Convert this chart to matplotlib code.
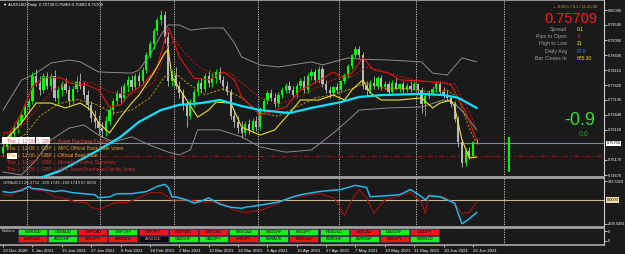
import matplotlib.pyplot as plt
from matplotlib.patches import Rectangle

plt.rcParams['font.family'] = ['Liberation Sans', 'DejaVu Sans']

# AUDUSD daily bars, 22 Dec 2020 .. 23 Jun 2021
opens = [0.7540, 0.7560, 0.7580, 0.7600, 0.7620, 0.7640, 0.7665, 0.7690, 0.7710, 0.7790,
         0.7770, 0.7745, 0.7790, 0.7760, 0.7790, 0.7720, 0.7745, 0.7765, 0.7745, 0.7710,
         0.7750, 0.7775, 0.7760, 0.7730, 0.7695, 0.7655, 0.7640, 0.7620, 0.7610, 0.7645,
         0.7680, 0.7710, 0.7735, 0.7720, 0.7760, 0.7780, 0.7755, 0.7790, 0.7775, 0.7810,
         0.7860, 0.7895, 0.7940, 0.7975, 0.7990, 0.7920, 0.7775, 0.7795, 0.7760, 0.7735,
         0.7695, 0.7660, 0.7705, 0.7740, 0.7770, 0.7750, 0.7790, 0.7770, 0.7785, 0.7805,
         0.7780, 0.7760, 0.7740, 0.7660, 0.7640, 0.7620, 0.7605, 0.7635, 0.7615, 0.7645,
         0.7625, 0.7685, 0.7710, 0.7735, 0.7720, 0.7700, 0.7730, 0.7745, 0.7760, 0.7745,
         0.7730, 0.7760, 0.7775, 0.7745, 0.7790, 0.7805, 0.7780, 0.7815, 0.7765, 0.7745,
         0.7735, 0.7755, 0.7745, 0.7775, 0.7795, 0.7825, 0.7860, 0.7880, 0.7860, 0.7760,
         0.7745, 0.7770, 0.7760, 0.7785, 0.7755, 0.7765, 0.7740, 0.7770, 0.7750, 0.7765,
         0.7745, 0.7760, 0.7750, 0.7765, 0.7745, 0.7700, 0.7725, 0.7735, 0.7750, 0.7765,
         0.7740, 0.7730, 0.7720, 0.7700, 0.7650, 0.7575, 0.7505, 0.7545, 0.7528, 0.75736]
highs = [0.7585, 0.7595, 0.7610, 0.7630, 0.7650, 0.7675, 0.7700, 0.7720, 0.7805, 0.7815,
         0.7790, 0.7800, 0.7805, 0.7800, 0.7810, 0.7760, 0.7775, 0.7785, 0.7760, 0.7760,
         0.7790, 0.7800, 0.7775, 0.7745, 0.7710, 0.7680, 0.7665, 0.7640, 0.7660, 0.7690,
         0.7720, 0.7745, 0.7760, 0.7770, 0.7790, 0.7795, 0.7800, 0.7805, 0.7820, 0.7870,
         0.7905, 0.7950, 0.7985, 0.8008, 0.8005, 0.7935, 0.7810, 0.7820, 0.7775, 0.7750,
         0.7710, 0.7715, 0.7750, 0.7780, 0.7785, 0.7800, 0.7810, 0.7800, 0.7815, 0.7820,
         0.7790, 0.7775, 0.7750, 0.7680, 0.7660, 0.7645, 0.7645, 0.7650, 0.7655, 0.7660,
         0.7690, 0.7720, 0.7745, 0.7750, 0.7735, 0.7740, 0.7755, 0.7770, 0.7775, 0.7760,
         0.7770, 0.7785, 0.7790, 0.7800, 0.7815, 0.7815, 0.7825, 0.7825, 0.7780, 0.7760,
         0.7760, 0.7770, 0.7780, 0.7800, 0.7830, 0.7865, 0.7891, 0.7890, 0.7870, 0.7775,
         0.7780, 0.7790, 0.7790, 0.7795, 0.7775, 0.7775, 0.7780, 0.7785, 0.7770, 0.7775,
         0.7770, 0.7775, 0.7775, 0.7770, 0.7755, 0.7735, 0.7745, 0.7760, 0.7775, 0.7775,
         0.7755, 0.7745, 0.7730, 0.7710, 0.7660, 0.7585, 0.7555, 0.7560, 0.7580, 0.75863]
lows = [0.7530, 0.7550, 0.7565, 0.7590, 0.7605, 0.7630, 0.7650, 0.7670, 0.7700, 0.7760,
        0.7730, 0.7735, 0.7750, 0.7745, 0.7710, 0.7700, 0.7725, 0.7735, 0.7695, 0.7700,
        0.7740, 0.7750, 0.7715, 0.7680, 0.7640, 0.7620, 0.7600, 0.7592, 0.7595, 0.7630,
        0.7665, 0.7695, 0.7700, 0.7710, 0.7740, 0.7745, 0.7745, 0.7760, 0.7765, 0.7800,
        0.7850, 0.7880, 0.7925, 0.7960, 0.7900, 0.7760, 0.7760, 0.7750, 0.7720, 0.7680,
        0.7625, 0.7650, 0.7690, 0.7725, 0.7735, 0.7740, 0.7755, 0.7755, 0.7770, 0.7770,
        0.7745, 0.7730, 0.7650, 0.7625, 0.7605, 0.7590, 0.7595, 0.7600, 0.7605, 0.7610,
        0.7615, 0.7675, 0.7700, 0.7710, 0.7690, 0.7690, 0.7720, 0.7735, 0.7735, 0.7720,
        0.7720, 0.7750, 0.7735, 0.7735, 0.7780, 0.7770, 0.7770, 0.7755, 0.7735, 0.7720,
        0.7725, 0.7735, 0.7740, 0.7765, 0.7785, 0.7815, 0.7850, 0.7850, 0.7750, 0.7730,
        0.7735, 0.7750, 0.7750, 0.7745, 0.7745, 0.7730, 0.7735, 0.7745, 0.7740, 0.7735,
        0.7740, 0.7740, 0.7745, 0.7735, 0.7670, 0.7660, 0.7715, 0.7725, 0.7740, 0.7730,
        0.7720, 0.7710, 0.7690, 0.7640, 0.7560, 0.7493, 0.7498, 0.7520, 0.7522, 0.75683]
closes = [0.7560, 0.7580, 0.7600, 0.7620, 0.7640, 0.7665, 0.7690, 0.7710, 0.7790, 0.7770,
          0.7745, 0.7790, 0.7760, 0.7790, 0.7720, 0.7745, 0.7765, 0.7745, 0.7710, 0.7750,
          0.7775, 0.7760, 0.7730, 0.7695, 0.7655, 0.7640, 0.7620, 0.7610, 0.7645, 0.7680,
          0.7710, 0.7735, 0.7720, 0.7760, 0.7780, 0.7755, 0.7790, 0.7775, 0.7810, 0.7860,
          0.7895, 0.7940, 0.7975, 0.7990, 0.7920, 0.7775, 0.7795, 0.7760, 0.7735, 0.7695,
          0.7660, 0.7705, 0.7740, 0.7770, 0.7750, 0.7790, 0.7770, 0.7785, 0.7805, 0.7780,
          0.7760, 0.7740, 0.7660, 0.7640, 0.7620, 0.7605, 0.7635, 0.7615, 0.7645, 0.7625,
          0.7685, 0.7710, 0.7735, 0.7720, 0.7700, 0.7730, 0.7745, 0.7760, 0.7745, 0.7730,
          0.7760, 0.7775, 0.7745, 0.7790, 0.7805, 0.7780, 0.7815, 0.7765, 0.7745, 0.7735,
          0.7755, 0.7745, 0.7775, 0.7795, 0.7825, 0.7860, 0.7880, 0.7860, 0.7760, 0.7745,
          0.7770, 0.7760, 0.7785, 0.7755, 0.7765, 0.7740, 0.7770, 0.7750, 0.7765, 0.7745,
          0.7760, 0.7750, 0.7765, 0.7745, 0.7700, 0.7725, 0.7735, 0.7750, 0.7765, 0.7740,
          0.7730, 0.7720, 0.7700, 0.7650, 0.7575, 0.7505, 0.7545, 0.7528, 0.7574, 0.75709]

# indicator lines, read at selected bars
bb_up_x = [0, 5, 9, 13, 18, 21, 26, 35, 37, 40, 43, 45, 48, 51, 56, 60, 63, 65, 70, 75,
           84, 87, 90, 94, 97, 105, 114, 117, 121, 125, 129]
bb_up = [0.7680, 0.7778, 0.7801, 0.7834, 0.7844, 0.7838, 0.7805, 0.7801, 0.7811, 0.7861,
         0.7926, 0.7959, 0.7959, 0.7942, 0.7949, 0.7949, 0.7900, 0.7854, 0.7828, 0.7821,
         0.7838, 0.7828, 0.7838, 0.7851, 0.7847, 0.7844, 0.7838, 0.7801, 0.7795, 0.7851,
         0.7838]
bb_lo_x = [0, 5, 9, 13, 18, 22, 26, 30, 35, 40, 45, 48, 51, 53, 59, 65, 70, 77, 84, 90,
           94, 97, 105, 114, 120, 123, 126, 129]
bb_lo = [0.7477, 0.7467, 0.7516, 0.7582, 0.7621, 0.7631, 0.7598, 0.7575, 0.7592, 0.7565,
         0.7542, 0.7533, 0.7549, 0.7615, 0.7615, 0.7592, 0.7559, 0.7542, 0.7549, 0.7605,
         0.7647, 0.7680, 0.7687, 0.7690, 0.7713, 0.7703, 0.7664, 0.7615]
red_x = [0, 2, 5, 8, 11, 16, 18, 23, 26, 29, 32, 35, 38, 42, 44, 45, 46, 48, 52, 56,
         60, 63, 65, 70, 77, 81, 85, 90, 92, 95, 98, 101, 105, 108, 114, 120, 122, 126, 129]
red = [0.7605, 0.7608, 0.7670, 0.7756, 0.7788, 0.7785, 0.7769, 0.7762, 0.7746, 0.7690,
       0.7697, 0.7739, 0.7762, 0.7821, 0.7910, 0.7949, 0.7920, 0.7854, 0.7785, 0.7779,
       0.7805, 0.7779, 0.7723, 0.7664, 0.7690, 0.7746, 0.7769, 0.7805, 0.7788, 0.7801,
       0.7851, 0.7811, 0.7801, 0.7779, 0.7775, 0.7769, 0.7762, 0.7674, 0.7582]
red_slow_x = [0, 5, 9, 13, 18, 24, 29, 34, 38, 41, 43, 45, 47, 50, 54, 58, 62, 66, 70, 75,
              80, 85, 90, 95, 99, 103, 108, 114, 120, 123, 126, 129]
red_slow = [0.7595, 0.7625, 0.7680, 0.7740, 0.7775, 0.7770, 0.7740, 0.7730, 0.7745, 0.7770,
            0.7830, 0.7895, 0.7905, 0.7860, 0.7815, 0.7800, 0.7800, 0.7760, 0.7720, 0.7700,
            0.7720, 0.7750, 0.7780, 0.7790, 0.7820, 0.7810, 0.7790, 0.7775, 0.7770, 0.7765,
            0.7700, 0.7620]
yel_x = [0, 5, 9, 13, 17, 21, 24, 26, 29, 32, 35, 37, 41, 44, 45, 46, 50, 53, 56, 58,
         62, 65, 70, 74, 78, 81, 86, 90, 93, 95, 98, 100, 103, 108, 114, 117, 119, 122, 123,
         125, 127, 129]
yel = [0.7575, 0.7638, 0.7703, 0.7703, 0.7687, 0.7703, 0.7680, 0.7638, 0.7605, 0.7657,
       0.7703, 0.7729, 0.7801, 0.7867, 0.7877, 0.7788, 0.7713, 0.7657, 0.7680, 0.7706,
       0.7703, 0.7624, 0.7598, 0.7615, 0.7670, 0.7713, 0.7713, 0.7729, 0.7713, 0.7746,
       0.7779, 0.7736, 0.7713, 0.7713, 0.7720, 0.7687, 0.7703, 0.7713, 0.7690, 0.7582,
       0.7523, 0.7526]
yel_slow_x = [0, 6, 10, 15, 20, 25, 30, 35, 40, 44, 47, 50, 55, 60, 65, 70, 75, 80, 85, 90,
              95, 99, 104, 110, 116, 121, 124, 127, 129]
yel_slow = [0.7560, 0.7600, 0.7660, 0.7700, 0.7715, 0.7700, 0.7670, 0.7680, 0.7720, 0.7790,
            0.7800, 0.7770, 0.7730, 0.7750, 0.7720, 0.7670, 0.7660, 0.7690, 0.7720, 0.7730,
            0.7750, 0.7770, 0.7750, 0.7750, 0.7740, 0.7745, 0.7720, 0.7620, 0.7570]
ma_x = [5, 10, 16, 21, 26, 32, 37, 43, 48, 54, 59, 65, 70, 78, 84, 92, 97, 103, 114, 120,
        124, 129]
ma = [0.7430, 0.7457, 0.7483, 0.7516, 0.7549, 0.7592, 0.7641, 0.7680, 0.7697, 0.7703,
      0.7713, 0.7693, 0.7680, 0.7670, 0.7687, 0.7706, 0.7723, 0.7729, 0.7733, 0.7729,
      0.7720, 0.7687]

bid = 0.75709
red_level = 0.7528
adr_bar_x = 137.7
adr_bar = (0.7477, 0.7591)
month_starts = [6.5, 26.5, 46.5, 69.5, 91.5, 112.5, 136.5]
price_ticks = [0.80080, 0.79590, 0.79090, 0.78600, 0.78110, 0.77620, 0.77130,
               0.76640, 0.76150, 0.75170, 0.74670]

# CCI subwindow
cci_x = [0, 2, 5, 7, 8, 11, 14, 16, 19, 22, 25, 26, 29, 31, 35, 37, 39, 42, 44, 45,
         46, 47, 50, 52, 54, 56, 59, 62, 65, 66, 70, 75, 79, 81, 86, 92, 96, 99, 100,
         104, 108, 111, 114, 115, 116, 119, 121, 123, 125, 127, 129]
cci = [143, 125, 161, 232, 196, 179, 143, 161, 125, 107, 89, 36, 54, 107, 107, 125, 143,
       232, 268, 214, 54, 54, 0, -54, -18, 36, -71, -125, -143, -125, -89, -36, 54, 89,
       143, 179, 250, 214, 54, 71, 89, 179, 54, 0, 71, 54, 0, -54, -409, -321, -214]
sig_x = [0, 2, 5, 7, 8, 11, 14, 16, 20, 23, 24, 26, 27, 30, 34, 37, 40, 43, 45, 46, 50,
         54, 59, 63, 66, 70, 74, 78, 82, 86, 90, 91, 93, 95, 97, 99, 101, 104, 108, 111,
         114, 115, 116, 120, 123, 125, 127, 129]
sig = [89, 71, 196, 214, 179, 161, 54, 36, -36, -54, -125, -161, -143, -54, -36, 36, 125,
       125, 54, 0, 0, -36, -36, -179, -214, -179, -89, 36, 71, 107, 36, -36, -268, 0, 179,
       36, -232, 0, 71, 125, -36, -232, 89, 54, -54, -232, -214, -36]

date_labels = ['22 Dec 2020', '5 Jan 2021', '15 Jan 2021', '27 Jan 2021', '8 Feb 2021',
               '18 Feb 2021', '2 Mar 2021', '12 Mar 2021', '24 Mar 2021', '5 Apr 2021',
               '15 Apr 2021', '27 Apr 2021', '7 May 2021', '19 May 2021', '31 May 2021',
               '10 Jun 2021', '22 Jun 2021']

row1 = ['EURUSD', 'GBPAUD', 'GBPCAD', 'GBPCHF', 'GBPJPY', 'GBPNZD', 'GBPUSD',
        'NZDCAD', 'NZDCHF', 'NZDJPY', 'NZDUSD', 'USDCAD', 'USDCHF', 'USDJPY']
row1_state = ['g', 'g', 'r', 'g', 'r', 'r', 'r', 'g', 'g', 'g', 'g', 'r', 'g', 'r']
row2 = ['AUDCAD', 'AUDCHF', 'AUDJPY', 'AUDNZD', 'AUDUSD', 'CADCHF', 'CADJPY',
        'CHFJPY', 'EURAUD', 'EURCAD', 'EURCHF', 'EURGBP', 'EURJPY', 'EURNZD']
row2_state = ['r', 'g', 'r', 'r', 'k', 'g', 'g', 'r', 'g', 'r', 'g', 'g', 'r', 'g']

events = ['Thu  |  12:00  |  GBP  |  Asset Purchase Facility',
          'Thu  |  12:00  |  GBP  |  MPC Official Bank Rate Votes',
          'Thu  |  12:00  |  GBP  |  Official Bank Rate',
          'Thu  |  12:00  |  GBP  |  Monetary Policy Summary',
          'Thu  |  12:00  |  GBP  |  MPC Asset Purchase Facility Votes']
event_colors = ['#e04848', '#e0a030', '#e0a030', '#c83030', '#c83030']

# ---------------------------------------------------------------
W, H = 625, 254
BG = '#1a1a1a'
GRID = '#a8a8a8'

fig = plt.figure(figsize=(W / 100, H / 100), dpi=100, facecolor=BG)


def px_axes(x0, y0, x1, y1):
    return fig.add_axes([x0 / W, 1 - y1 / H, (x1 - x0) / W, (y1 - y0) / H])


def ftxt(x, y, s, **kw):
    fig.text(x / W, 1 - y / H, s, va='center', **kw)


def frect(x0, y0, x1, y1, **kw):
    fig.add_artist(Rectangle((x0 / W, 1 - y1 / H), (x1 - x0) / W, (y1 - y0) / H,
                             transform=fig.transFigure, **kw))


ax = px_axes(0, 0, 604, 177)
ax_cci = px_axes(0, 178, 604, 227)
ax_btn = px_axes(0, 228, 604, 245)
ax_cci.sharex(ax)
ax_btn.sharex(ax)

for a in (ax, ax_cci, ax_btn):
    a.set_facecolor(BG)
    a.spines['left'].set_visible(False)
    for s in ('top', 'bottom'):
        a.spines[s].set_color(GRID)
        a.spines[s].set_linewidth(1.2)
    a.spines['right'].set_color('#d0d0d0')
    a.spines['right'].set_linewidth(0.8)
    a.tick_params(axis='y', left=False, labelleft=False, right=True, labelright=True,
                  labelsize=2.8, colors='white', length=2, width=0.5, pad=1)
    a.tick_params(axis='x', bottom=False, labelbottom=False)
    for m in month_starts:
        a.axvline(m, color='#d8d8d8', lw=0.6, ls=(0, (1.5, 1.5)), zorder=1)

ax.set_xlim(-0.85, 163.7)

# ---- main price window ----
ax.set_ylim(0.74605, 0.80408)
idx = list(range(len(closes)))
cols = ['#00ff00' if c >= o else '#b8b8b8' for o, c in zip(opens, closes)]
ax.vlines(idx, lows, highs, colors=cols, lw=0.6, zorder=3)
ax.bar(idx, [max(abs(c - o), 0.00008) for o, c in zip(opens, closes)],
       bottom=[min(o, c) for o, c in zip(opens, closes)], width=0.6, color=cols,
       lw=0, zorder=3)

ax.plot(bb_up_x, bb_up, color='#8c8c8c', lw=0.7, zorder=2)
ax.plot(bb_lo_x, bb_lo, color='#8c8c8c', lw=0.7, zorder=2)
ax.plot(red_slow_x, red_slow, color='#b01818', lw=0.7, ls=(0, (2.5, 1.5)), zorder=4)
ax.plot(yel_slow_x, yel_slow, color='#a89400', lw=0.7, ls=(0, (2.5, 1.5)), zorder=4)
ax.plot(red_x, red, color='#e81010', lw=0.8, zorder=4)
ax.plot(yel_x, yel, color='#f0e020', lw=0.8, zorder=4)
ax.plot(ma_x, ma, color='#10e0ff', lw=1.6, zorder=5)

ax.axhline(bid, color='#7d8a98', lw=0.8, zorder=2)
ax.axhline(red_level, color='#a01010', lw=0.9, ls=(0, (4, 2, 1, 2)), zorder=2)
ax.vlines(adr_bar_x, adr_bar[0], adr_bar[1], color='#00ff00', lw=1.4, zorder=3)

ax.set_yticks(price_ticks)
ax.set_yticklabels([f'{t:.5f}' for t in price_ticks])
ax.text(1.004, bid, f'{bid:.5f}', transform=ax.get_yaxis_transform(), fontsize=2.8,
        color='black', va='center', ha='left', clip_on=False,
        bbox=dict(facecolor='white', edgecolor='none', pad=0.6))

# ---- CCI window ----
ax_cci.set_ylim(-463, 376)
ax_cci.axhline(0, color='#c8b48c', lw=0.8, zorder=2)
ax_cci.plot(sig_x, sig, color='#a81010', lw=0.8, zorder=3)
ax_cci.plot(cci_x, cci, color='#22b8ec', lw=1.1, zorder=4)
ax_cci.set_yticks([322.5319, -409.5491])
ax_cci.set_yticklabels(['322.5319', '-409.5491'])
ax_cci.text(1.004, 0, '0.0000', transform=ax_cci.get_yaxis_transform(), fontsize=2.8,
            color='black', va='center', ha='left', clip_on=False,
            bbox=dict(facecolor='#f0e0a8', edgecolor='none', pad=0.6))

# ---- buttons window ----
ax_btn.set_ylim(0, 1)
ax_btn.set_yticks([0.82, 0.24])
ax_btn.set_yticklabels(['0', '0'])
ax_btn.set_xticks(range(0, 129, 8))
ax_btn.set_xticklabels(date_labels)
ax_btn.tick_params(axis='x', bottom=True, labelbottom=True, labelsize=3.2, colors='white',
                   length=1.5, width=0.5, pad=1.2)
for lab in ax_btn.get_xticklabels():
    lab.set_horizontalalignment('left')

fills = {'g': '#18f018', 'r': '#f01414', 'k': '#0a0a0a'}
texts = {'g': 'black', 'r': 'black', 'k': '#e8a0a0'}
for r, (names, states) in enumerate([(row1, row1_state), (row2, row2_state)]):
    y0 = 228.6 + r * 7.0
    for k, (name, st) in enumerate(zip(names, states)):
        x0 = 18 + k * 30.15
        frect(x0, y0, x0 + 29, y0 + 6.4, facecolor=fills[st], edgecolor='#3a3060',
              lw=0.5, zorder=3)
        ftxt(x0 + 14.5, y0 + 3.3, name, ha='center', fontsize=2.9, color=texts[st])
ftxt(2, 231.5, 'Buttons', ha='left', fontsize=2.9, color='#d0d0d0')

# ---- overlay texts ----
ftxt(3, 5, '\u25bc AUDUSD,Daily  0.75736 0.75863 0.75683 0.75709', ha='left',
     fontsize=3.1, color='white')
ftxt(3, 183, 'GRBidCCI 26.3712 -199.1749 -199.1749 67.0650', ha='left', fontsize=3.1,
     color='#d8d8d8')

frect(2, 137, 35, 144, facecolor='white', edgecolor='none', zorder=3)
frect(36, 136.5, 50, 144, facecolor='white', edgecolor='none', zorder=3)
frect(7, 152.5, 17, 158.5, facecolor='white', edgecolor='none', zorder=3)
for k, (ev, c) in enumerate(zip(events, event_colors)):
    ftxt(7, 141 + k * 7.1, ev, ha='left', fontsize=3.5, color=c)

ftxt(597, 7, '+ -0.05% / 0.1 / 11:25:30', ha='right', fontsize=3.0, color='#d89a3a')
ftxt(597.5, 19, '0.75709', ha='right', fontsize=10.5, color='#ff1a1a')
info_labels = ['Spread', 'Pips to Open', 'High to Low', 'Daily Avg', 'Bar Closes In']
info_values = ['0.1', '-3', '21', '67.8', '685:30']
info_colors = ['#ffff00', '#ff2020', '#ffff00', '#2090ff', '#ffd700']
for k, (lab, val, c) in enumerate(zip(info_labels, info_values, info_colors)):
    yy = 29.5 + k * 7.2
    ftxt(567, yy, lab, ha='right', fontsize=3.8, color='#a0a0a0')
    ftxt(577, yy, val, ha='left', fontsize=3.6, color=c)

ftxt(595, 120.5, '-0.9', ha='right', fontsize=13, color='#33dd33')
ftxt(584, 134.5, '0.0', ha='center', fontsize=5, color='#22aa22')

fig.savefig('out.png', dpi=100, facecolor=BG)
